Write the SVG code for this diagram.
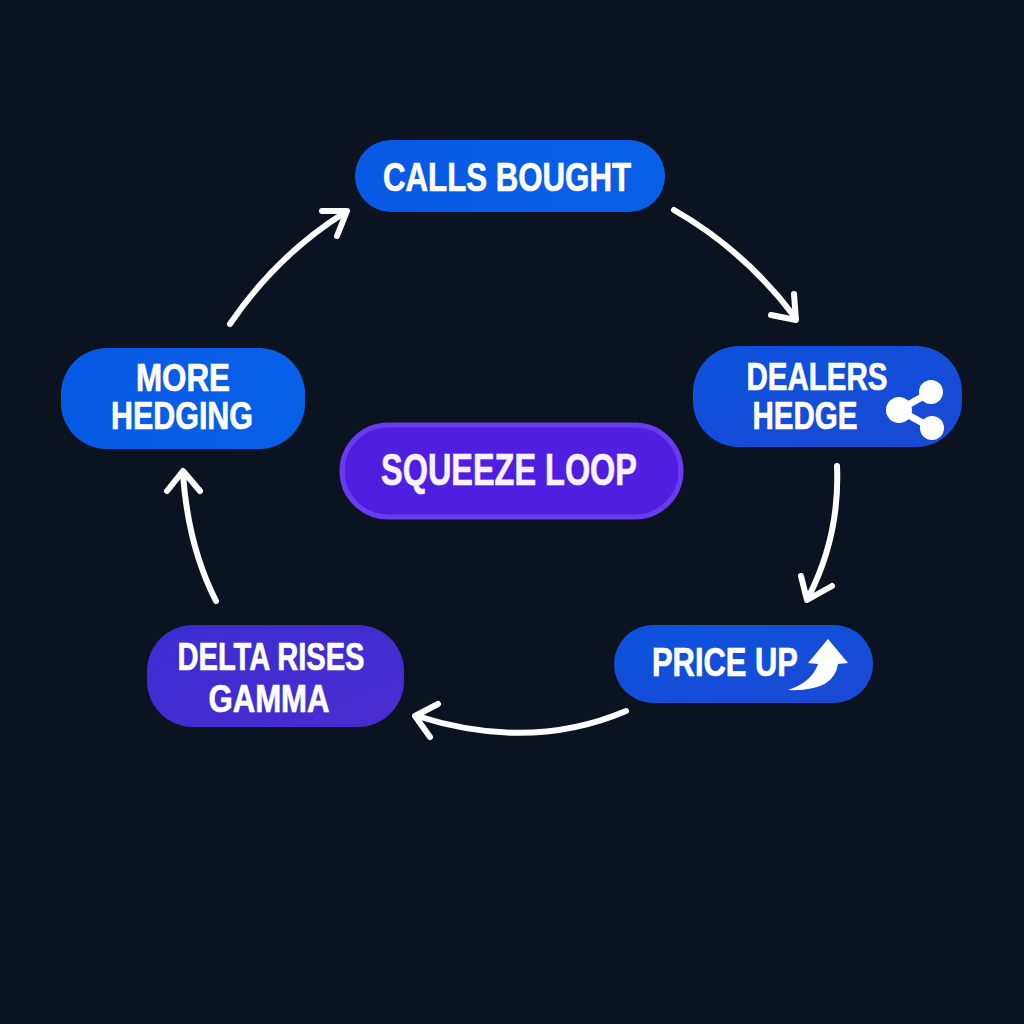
<svg xmlns="http://www.w3.org/2000/svg" width="1024" height="1024" viewBox="0 0 1024 1024">
<defs>
<linearGradient id="gBlue" x1="0" y1="0" x2="1" y2="0"><stop offset="0" stop-color="#0859e4"/><stop offset="1" stop-color="#0860e8"/></linearGradient>
<linearGradient id="gHedge" x1="0" y1="0" x2="1" y2="1"><stop offset="0" stop-color="#0d53dc"/><stop offset="1" stop-color="#1a48d4"/></linearGradient>
<linearGradient id="gPurple" x1="0" y1="0" x2="1" y2="1"><stop offset="0" stop-color="#3c2cd2"/><stop offset="1" stop-color="#4a2ccf"/></linearGradient>
<style>
text{font-family:"Liberation Sans",Arial,sans-serif;font-weight:700;font-size:41px;fill:#fff;text-anchor:middle;stroke:#fff;stroke-width:.7px;paint-order:stroke}
.two{font-size:38px}
.mid{font-size:40px}
.c{fill:none;stroke:#fff;stroke-width:6;stroke-linecap:round;stroke-linejoin:round}
</style>
</defs>
<rect width="1024" height="1024" fill="#0a131f"/>
<g id="connectors">
<path class="c" d="M230 324Q276 256 344 213"/><path class="c" d="M322 211L347 211L337 236"/>
<path class="c" d="M674 210Q744 250 794 316"/><path class="c" d="M771 315L796 320L794 294"/>
<path class="c" d="M837 466Q840 536 808 598"/><path class="c" d="M801 576L807 600L832 586"/>
<path class="c" d="M626 711Q530 752 417 716"/><path class="c" d="M438 704L415 716L430 737"/>
<path class="c" d="M216 601Q188 546 183 474"/><path class="c" d="M167 491L183 471L200 491"/>
</g>
<g id="node-calls-bought"><rect x="355" y="140" width="310" height="72" rx="36" fill="url(#gBlue)"/><text x="507" y="191" textLength="248" lengthAdjust="spacingAndGlyphs">CALLS BOUGHT</text></g>
<g id="node-dealers-hedge"><rect x="693" y="346" width="269" height="101" rx="46" fill="url(#gHedge)"/><text class="two" x="817" y="390" textLength="141" lengthAdjust="spacingAndGlyphs">DEALERS</text><text class="two" x="805" y="429" textLength="105" lengthAdjust="spacingAndGlyphs">HEDGE</text>
<path d="M931 392L899 410L932 428" fill="none" stroke="#fff" stroke-width="7"/><circle cx="931" cy="392" r="12" fill="#fff"/><circle cx="899" cy="410" r="13" fill="#fff"/><circle cx="932" cy="428" r="12" fill="#fff"/></g>
<g id="node-price-up"><rect x="614" y="625" width="259" height="78" rx="39" fill="url(#gHedge)"/><text class="mid" x="725" y="676" textLength="146" lengthAdjust="spacingAndGlyphs">PRICE UP</text>
<path d="M788 690Q812 682 818 664L808 663L828 639L848 663L838 664Q834 692 788 690Z" fill="#fff"/></g>
<g id="node-delta-rises-gamma"><rect x="147" y="625" width="257" height="102" rx="46" fill="url(#gPurple)"/><text class="two" x="271" y="670" textLength="187" lengthAdjust="spacingAndGlyphs">DELTA RISES</text><text class="two" x="269" y="712" textLength="121" lengthAdjust="spacingAndGlyphs">GAMMA</text></g>
<g id="node-more-hedging"><rect x="61" y="348" width="244" height="101" rx="46" fill="url(#gBlue)"/><text class="two" x="183" y="391" textLength="94" lengthAdjust="spacingAndGlyphs">MORE</text><text class="two" x="182" y="429" textLength="142" lengthAdjust="spacingAndGlyphs">HEDGING</text></g>
<g id="node-squeeze-loop"><rect x="342" y="425" width="339" height="92" rx="46" fill="#4f1fe0" stroke="#6a3bf0" stroke-width="5"/><text x="509" y="485" textLength="256" lengthAdjust="spacingAndGlyphs" style="font-size:44px;fill:#f8f2ff;stroke:#f8f2ff">SQUEEZE LOOP</text></g>
</svg>
